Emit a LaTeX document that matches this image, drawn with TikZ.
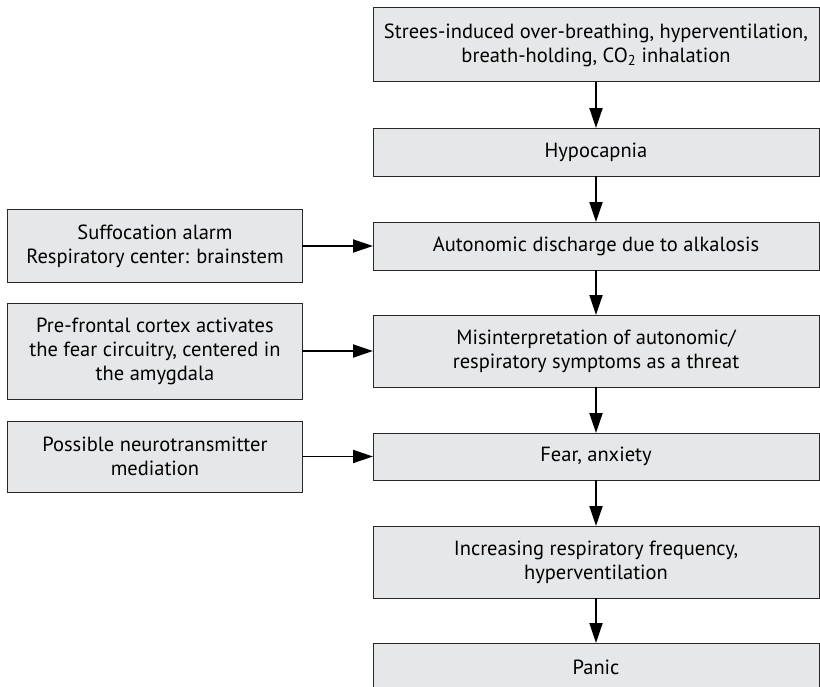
\documentclass[tikz,border=0pt]{standalone}
\usepackage{fontspec}
\setmainfont{PT Sans}
\usetikzlibrary{arrows.meta, positioning}
\definecolor{box_fill}{RGB}{230,231,232}
\definecolor{box_line}{RGB}{40,40,40}

\begin{document}
\begin{tikzpicture}[x=1bp, y=-1bp,
font=\fontsize{20.5bp}{24bp}\selectfont,
mainbox/.style={draw=box_line, fill=box_fill, line width=1bp, outer sep=0pt,
  minimum width=446bp, minimum height=48bp, align=center, inner sep=2bp},
sidebox/.style={mainbox, minimum width=294bp},
flow/.style={line width=1.9bp, -{Triangle[length=20bp, width=13bp]}}]
\useasboundingbox (0,0) rectangle (820,687);
% MAIN CHAIN
\node[mainbox, minimum height=74bp] (stress) at (596,45)
  {Strees-induced over-breathing, hyperventilation,\\ breath-holding, CO\textsubscript{2} inhalation};
\node[mainbox, below=46bp of stress] (hypo) {Hypocapnia};
\node[mainbox, below=46bp of hypo] (auto) {Autonomic discharge due to alkalosis};
\node[mainbox, minimum height=72bp, below=45bp of auto] (misint)
  {Misinterpretation of autonomic/\\ respiratory symptoms as a threat};
\node[mainbox, minimum height=47bp, below=46bp of misint] (fear) {Fear, anxiety};
\node[mainbox, minimum height=72bp, below=46bp of fear] (incr)
  {Increasing respiratory frequency,\\ hyperventilation};
\node[mainbox, below=45bp of incr] (panic) {Panic};
% SIDE CAUSES
\node[sidebox, minimum height=73bp, left=71bp of auto] (alarm)
  {Suffocation alarm\\ Respiratory center: brainstem};
\node[sidebox, minimum height=96bp, left=71bp of misint] (cortex)
  {Pre-frontal cortex activates\\ the fear circuitry, centered in\\ the amygdala};
\node[sidebox, minimum height=71bp, left=71bp of fear] (neuro)
  {Possible neurotransmitter\\ mediation};
% ARROWS
\foreach \a/\b in {stress/hypo, hypo/auto, auto/misint, misint/fear, fear/incr, incr/panic}
  \draw[flow] (\a) -- (\b);
\foreach \a/\b in {alarm/auto, cortex/misint, neuro/fear}
  \draw[flow] (\a) -- (\b);
\end{tikzpicture}
\end{document}
